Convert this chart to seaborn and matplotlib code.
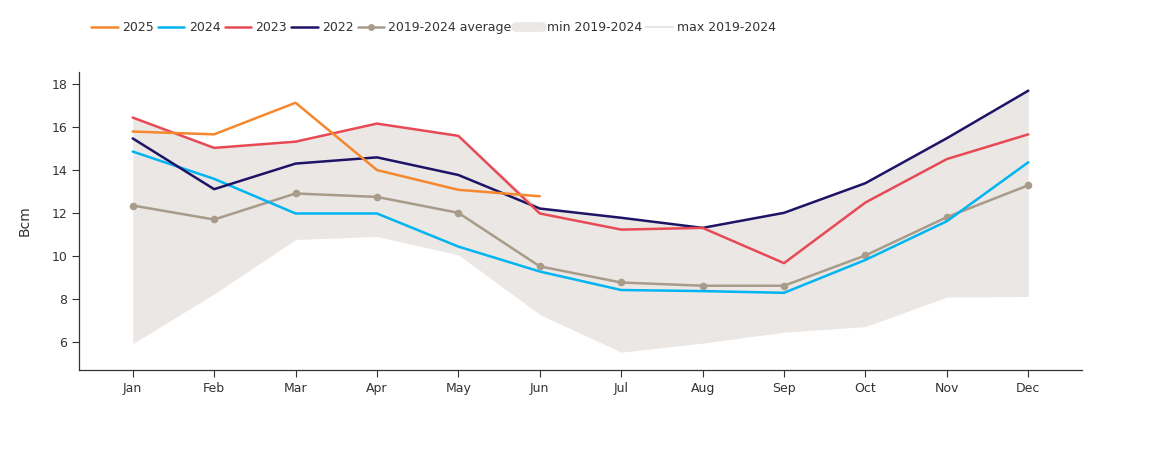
import matplotlib
matplotlib.use("Agg")
import matplotlib.pyplot as plt
import seaborn as sns
import pandas as pd
from matplotlib.lines import Line2D

months = ["Jan", "Feb", "Mar", "Apr", "May", "Jun", "Jul", "Aug", "Sep", "Oct", "Nov", "Dec"]
y2025 = [15.79, 15.66, 17.13, 14.00, 13.08, 12.78]
y2024 = [14.86, 13.59, 11.98, 11.98, 10.44, 9.28, 8.42, 8.37, 8.29, 9.82, 11.62, 14.36]
y2023 = [16.44, 15.03, 15.32, 16.16, 15.59, 11.98, 11.23, 11.31, 9.67, 12.49, 14.51, 15.66]
y2022 = [15.47, 13.11, 14.30, 14.59, 13.77, 12.21, 11.78, 11.31, 12.01, 13.39, 15.48, 17.69]
avg = [12.35, 11.70, 12.91, 12.75, 12.01, 9.52, 8.77, 8.62, 8.62, 10.03, 11.81, 13.29]
min_1924 = [5.92, 8.24, 10.77, 10.91, 10.06, 7.28, 5.53, 5.95, 6.46, 6.72, 8.09, 8.12]
max_1924 = [16.44, 15.03, 15.32, 16.16, 15.59, 12.21, 11.78, 11.31, 12.01, 13.39, 15.48, 17.69]

c2025 = "#f5882d"
c2024 = "#00b5f1"
c2023 = "#e84a55"
c2022 = "#1e1466"
cavg = "#a89b8a"
cfill = "#ebe7e4"

sns.set_style("ticks")
plt.rcParams["font.family"] = ["DejaVu Sans"]

fig = plt.figure(figsize=(11.63, 4.50), dpi=100)
ax = fig.add_axes([79 / 1163, 1 - 370 / 450, (1082 - 79) / 1163, (370 - 72) / 450])

x = list(range(12))
ax.fill_between(x, min_1924, max_1924, color=cfill, linewidth=0, zorder=1)

def line(vals, color, marker=None):
    df = pd.DataFrame({"m": x[:len(vals)], "v": vals})
    sns.lineplot(data=df, x="m", y="v", ax=ax, color=color, linewidth=1.8,
                 marker=marker, markersize=5.5, markeredgewidth=0, zorder=3)

line(avg, cavg, marker="o")
line(y2024, c2024)
line(y2022, c2022)
line(y2023, c2023)
line(y2025, c2025)

ax.set_xlim(-0.66, 11.66)
ax.set_ylim(4.7, 18.56)
ax.set_xticks(x)
ax.set_xticklabels(months)
ax.set_yticks([6, 8, 10, 12, 14, 16, 18])
ax.set_xlabel("")
ax.set_ylabel("Bcm", fontsize=10, color="#333333", labelpad=14)
ax.tick_params(axis="both", labelsize=9, colors="#333333", length=5, width=0.8)
for s in ["left", "bottom"]:
    ax.spines[s].set_color("#333333")
    ax.spines[s].set_linewidth(0.9)
sns.despine(ax=ax)

handles = [
    Line2D([], [], color=c2025, lw=1.8),
    Line2D([], [], color=c2024, lw=1.8),
    Line2D([], [], color=c2023, lw=1.8),
    Line2D([], [], color=c2022, lw=1.8),
    Line2D([], [], color=cavg, lw=1.8, marker="o", markersize=5, markeredgewidth=0),
    Line2D([], [], color=cfill, lw=7),
    Line2D([], [], color="#e6e6e6", lw=1.5),
]
labels = ["2025", "2024", "2023", "2022", "2019-2024 average", "min 2019-2024", "max 2019-2024"]
fig.legend(handles, labels, loc="upper left", bbox_to_anchor=(80 / 1163, 1 - 10 / 450),
           ncol=7, frameon=False, fontsize=9, handlelength=2.1, handletextpad=0.35,
           columnspacing=0.35, labelcolor="#333333")

fig.savefig("out.png", dpi=100)
